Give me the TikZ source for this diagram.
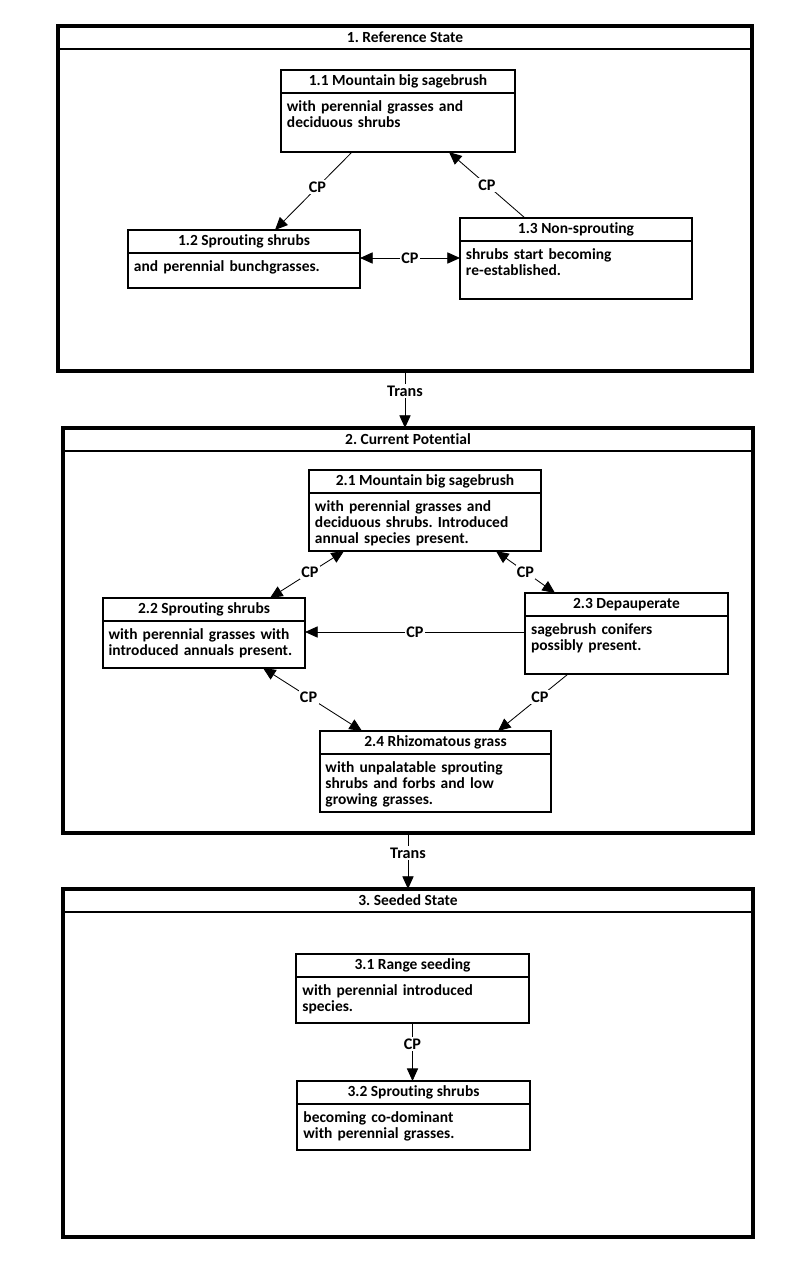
\documentclass[tikz,border=0pt]{standalone}
\usepackage{fontspec}
\setmainfont{Carlito}[Ligatures=NoCommon]
\frenchspacing
\usetikzlibrary{shapes,arrows.meta,positioning}
\tikzstyle{frame} = [rectangle, draw, line width=2.4pt, outer sep=0pt]
\tikzstyle{framehead} = [rectangle, draw, line width=1.3pt, outer sep=0pt, minimum height=0.575cm, font=\bfseries\fontsize{11}{11.5}\selectfont]
\tikzstyle{head} = [rectangle, draw, line width=1pt, outer sep=0pt, minimum height=0.575cm, text centered, font=\bfseries\fontsize{11}{11.5}\selectfont]
\tikzstyle{body} = [rectangle, draw, line width=1pt, outer sep=0pt, align=left, inner xsep=4pt, inner ysep=3pt, text height=10pt, font=\bfseries\fontsize{11}{11.5}\selectfont]
\tikzstyle{line} = [draw, line width=0.6pt, -{Triangle[length=9pt,width=8pt]}]
\tikzstyle{both} = [draw, line width=0.6pt, {Triangle[length=9pt,width=8pt]}-{Triangle[length=9pt,width=8pt]}]
\tikzstyle{lbl} = [fill=white, inner sep=1pt, font=\bfseries\fontsize{11.5}{12}\selectfont]
\begin{document}
\begin{tikzpicture}[x=0.025cm, y=-0.025cm]
  \useasboundingbox (0,0) rectangle (800,1281);

  % states
  \node [frame, minimum width=17.35cm, minimum height=8.625cm] (st1) at (405,198.5) {};
  \node [framehead, anchor=north, minimum width=17.35cm] (h1) at (st1.north) {1. Reference State};
  \node [frame, minimum width=17.25cm, minimum height=10.125cm] (st2) at (408,630.5) {};
  \node [framehead, anchor=north, minimum width=17.25cm] (h2) at (st2.north) {2. Current Potential};
  \node [frame, minimum width=17.25cm, minimum height=8.7cm] (st3) at (408,1063) {};
  \node [framehead, anchor=north, minimum width=17.25cm] (h3) at (st3.north) {3. Seeded State};

  % 1. reference state
  \node [head, minimum width=5.85cm] (t11) at (398,81.5) {1.1 Mountain big sagebrush};
  \node [body, below=0pt of t11, minimum width=5.85cm, text width=5.55cm, text depth=26pt] (b11) {with perennial grasses and\\deciduous shrubs};
  \node [head, minimum width=5.8cm] (t12) at (244,241.5) {1.2 Sprouting shrubs};
  \node [body, below=0pt of t12, minimum width=5.8cm, text width=5.5cm, text depth=9pt] (b12) {and perennial bunchgrasses.};
  \node [head, minimum width=5.8cm] (t13) at (576,229.5) {1.3 Non-sprouting};
  \node [body, below=0pt of t13, minimum width=5.8cm, text width=5.5cm, text depth=25.3pt] (b13) {shrubs start becoming\\re-established.};

  % 2. current potential
  \node [head, minimum width=5.8cm] (t21) at (425,481.5) {2.1 Mountain big sagebrush};
  \node [body, below=0pt of t21, minimum width=5.8cm, text width=5.5cm, text depth=25.3pt] (b21) {with perennial grasses and\\deciduous shrubs. Introduced\\annual species present.};
  \node [head, minimum width=5.05cm] (t22) at (204,609.5) {2.2 Sprouting shrubs};
  \node [body, below=0pt of t22, minimum width=5.05cm, text width=4.77cm, text depth=17.4pt] (b22) {with perennial grasses with\\introduced annuals present.};
  \node [head, minimum width=5.075cm] (t23) at (626.5,604.5) {2.3 Depauperate};
  \node [body, below=0pt of t23, minimum width=5.075cm, text width=4.77cm, text depth=25.3pt] (b23) {sagebrush conifers\\possibly present.};
  \node [head, minimum width=5.775cm] (t24) at (435.5,742.5) {2.4 Rhizomatous grass};
  \node [body, below=0pt of t24, minimum width=5.775cm, text width=5.5cm, text depth=25.3pt] (b24) {with unpalatable sprouting\\shrubs and forbs and low\\growing grasses.};

  % 3. seeded state
  \node [head, minimum width=5.825cm] (t31) at (412.5,965.5) {3.1 Range seeding};
  \node [body, below=0pt of t31, minimum width=5.825cm, text width=5.5cm, text depth=16.7pt] (b31) {with perennial introduced\\species.};
  \node [head, minimum width=5.825cm] (t32) at (413.5,1092.5) {3.2 Sprouting shrubs};
  \node [body, below=0pt of t32, minimum width=5.825cm, text width=5.5cm, text depth=16.7pt] (b32) {becoming co-dominant\\with perennial grasses.};

  \path [line] (352,0 |- b11.south) -- (275,0 |- t12.north) node [lbl, pos=0.45] {CP};
  \path [line] (525,0 |- t13.north) -- (449,0 |- b11.south) node [lbl, midway] {CP};
  \path [both] (b12.east |- 0,258) -- (b13.west |- 0,258) node [lbl, midway] {CP};
  \path [line] (st1.south) -- (st1.south |- st2.north) node [lbl, pos=0.35] {Trans};

  \path [both] (344,0 |- b21.south) -- (270,0 |- t22.north) node [lbl, pos=0.46] {CP};
  \path [both] (496,0 |- b21.south) -- (555,0 |- t23.north) node [lbl, midway] {CP};
  \path [line] (b23.west |- 0,632) -- (b22.east |- 0,632) node [lbl, midway] {CP};
  \path [both] (263,0 |- b22.south) -- (362,0 |- t24.north) node [lbl, pos=0.46] {CP};
  \path [line] (568,0 |- b23.south) -- (498,0 |- t24.north) node [lbl, pos=0.4] {CP};
  \path [line] (st2.south) -- (st2.south |- st3.north) node [lbl, pos=0.36] {Trans};

  \path [line] (b31.south) -- (b31.south |- t32.north) node [lbl, pos=0.36] {CP};
\end{tikzpicture}
\end{document}
